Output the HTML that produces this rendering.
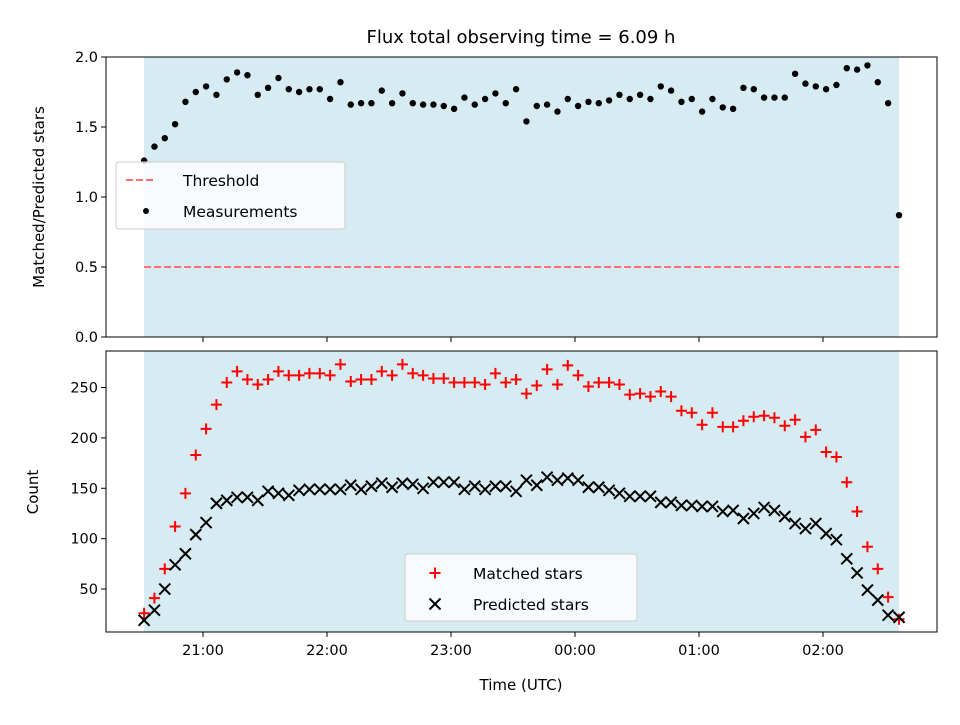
<!DOCTYPE html>
<html><head><meta charset="utf-8"><style>
body{margin:0;background:#fff}
svg text{font-family:"DejaVu Sans","Liberation Sans",sans-serif;fill:#000}
</style></head><body>
<svg id="c" width="960" height="720" viewBox="0 0 960 720"></svg>
<script>
// time of each measurement: minutes after 20:00
const timesMin = [31.5,36.5,41.5,46.5,51.5,56.5,61.5,66.5,71.5,76.5,81.5,86.5,91.5,96.5,101.5,106.5,111.5,116.5,121.5,126.5,131.5,136.5,141.5,146.5,151.5,156.5,161.5,166.5,171.5,176.5,181.5,186.5,191.5,196.5,201.5,206.5,211.5,216.5,221.5,226.5,231.5,236.5,241.5,246.5,251.5,256.5,261.5,266.5,271.5,276.5,281.5,286.5,291.5,296.5,301.5,306.5,311.5,316.5,321.5,326.5,331.5,336.5,341.5,346.5,351.5,356.5,361.5,366.5,371.5,376.5,381.5,386.5,391.5,396.8];
const ratio = [1.26,1.36,1.42,1.52,1.68,1.75,1.79,1.73,1.84,1.89,1.87,1.73,1.78,1.85,1.77,1.75,1.77,1.77,1.70,1.82,1.66,1.67,1.67,1.76,1.67,1.74,1.67,1.66,1.66,1.65,1.63,1.71,1.66,1.70,1.74,1.67,1.77,1.54,1.65,1.66,1.61,1.70,1.65,1.68,1.67,1.69,1.73,1.70,1.73,1.70,1.79,1.76,1.68,1.70,1.61,1.70,1.64,1.63,1.78,1.77,1.71,1.71,1.71,1.88,1.81,1.79,1.77,1.80,1.92,1.91,1.94,1.82,1.67,0.87];
const matched = [26,41,70,112,145,183,209,233,255,266,258,253,258,266,262,262,264,264,262,273,256,258,258,266,262,273,264,262,259,259,255,255,255,253,264,255,258,244,252,268,253,272,262,251,255,255,253,243,244,241,246,241,227,225,213,225,211,211,217,221,222,220,212,218,201,208,186,181,156,127,92,70,42,20];
const predicted = [19,29,50,74,85,104,116,135,138,141,141,138,147,145,143,148,149,149,149,149,153,149,152,155,151,155,154,150,156,156,156,149,152,149,152,152,147,158,153,161,158,160,158,151,151,148,145,142,142,142,136,136,133,133,132,132,127,128,120,125,131,128,122,115,110,115,105,99,80,66,49,39,24,22];
const threshold = 0.5;
const xTickMin = [60,120,180,240,300,360];
const xTickLabels = ["21:00","22:00","23:00","00:00","01:00","02:00"];
const topTicks = [0,0.5,1.0,1.5,2.0];
const topTickLabels = ["0.0","0.5","1.0","1.5","2.0"];
const botTicks = [50,100,150,200,250];

const NS="http://www.w3.org/2000/svg";
const svg=document.getElementById('c');
function el(tag,attrs,parent){const e=document.createElementNS(NS,tag);for(const k in attrs)e.setAttribute(k,attrs[k]);(parent||svg).appendChild(e);return e;}
const X=m=>203+(m-60)*124/60;
const YT=v=>337-v*140;
const YB=v=>639.4-v*1.0075;
const L=106,R=937;
const TF=14.5, LF=15, GF=15.5;

let t=el('text',{x:521,y:43,'font-size':18,'text-anchor':'middle'});t.textContent='Flux total observing time = 6.09 h';



function panel(top,bot,name){
  const g=el('g',{});
  
  
  const sh=el('rect',{x:X(timesMin[0]),y:top,width:X(timesMin[timesMin.length-1])-X(timesMin[0]),height:bot-top,fill:'rgba(173,216,230,0.5)'},g);
  
  
  return g;
}
function frame(g,top,bot){
  el('rect',{x:L,y:top,width:R-L,height:bot-top,fill:'none',stroke:'#000','stroke-width':1},g);
  xTickMin.forEach(m=>el('line',{x1:X(m),x2:X(m),y1:bot,y2:bot+5,stroke:'#000'},g));
}
const gt=panel(57,337,'ratio-panel');
const th=el('line',{x1:X(timesMin[0]),x2:X(timesMin[timesMin.length-1]),y1:YT(threshold),y2:YT(threshold),stroke:'#ff6e6e','stroke-width':2,'stroke-dasharray':'7,3'},gt);


ratio.forEach((v,i)=>{const c=el('circle',{cx:X(timesMin[i]),cy:YT(v),r:3.2,fill:'#000'},gt);

});
frame(gt,57,337);
topTicks.forEach((v,i)=>{el('line',{x1:L-5,x2:L,y1:YT(v),y2:YT(v),stroke:'#000'},gt);
const tx=el('text',{x:L-8,y:YT(v)+5,'font-size':TF,'text-anchor':'end'},gt);tx.textContent=topTickLabels[i];

});
let yl=el('text',{x:0,y:0,'font-size':LF,'text-anchor':'middle',transform:'translate(44,197) rotate(-90)'});yl.textContent='Matched/Predicted stars';


const lg=el('g',{});


el('rect',{x:116,y:162,width:229,height:67,rx:3,fill:'rgba(255,255,255,0.8)',stroke:'#ccc'},lg);
el('line',{x1:126,x2:154,y1:180,y2:180,stroke:'#ff6e6e','stroke-width':2,'stroke-dasharray':'7,3'},lg);
let lt=el('text',{x:183,y:186,'font-size':GF},lg);lt.textContent='Threshold';


el('circle',{cx:146,cy:211,r:3,fill:'#000'},lg);
lt=el('text',{x:183,y:217,'font-size':GF},lg);lt.textContent='Measurements';



const gb=panel(351,632,'count-panel');
function plus(g,x,y){el('path',{d:`M${x-5.5},${y}H${x+5.5}M${x},${y-5.5}V${y+5.5}`,stroke:'#ff0000','stroke-width':2},g);}
function cross(g,x,y){el('path',{d:`M${x-5.5},${y-5.5}L${x+5.5},${y+5.5}M${x-5.5},${y+5.5}L${x+5.5},${y-5.5}`,stroke:'#000','stroke-width':2},g);}
matched.forEach((v,i)=>{const g=el('g',{},gb);


plus(g,X(timesMin[i]),YB(v));});
predicted.forEach((v,i)=>{const g=el('g',{},gb);


cross(g,X(timesMin[i]),YB(v));});
frame(gb,351,632);
botTicks.forEach(v=>{el('line',{x1:L-5,x2:L,y1:YB(v),y2:YB(v),stroke:'#000'},gb);
const tx=el('text',{x:L-8,y:YB(v)+5,'font-size':TF,'text-anchor':'end'},gb);tx.textContent=String(v);

});
xTickMin.forEach((m,i)=>{const tx=el('text',{x:X(m),y:655,'font-size':TF,'text-anchor':'middle'},gb);tx.textContent=xTickLabels[i];

});
yl=el('text',{x:0,y:0,'font-size':LF,'text-anchor':'middle',transform:'translate(38,492) rotate(-90)'});yl.textContent='Count';


let xl=el('text',{x:521,y:690,'font-size':LF,'text-anchor':'middle'});xl.textContent='Time (UTC)';


const lb=el('g',{});


el('rect',{x:405,y:554,width:232,height:67,rx:3,fill:'rgba(255,255,255,0.8)',stroke:'#ccc'},lb);
plus(lb,435,573);
lt=el('text',{x:473,y:579,'font-size':GF},lb);lt.textContent='Matched stars';


cross(lb,435,604);
lt=el('text',{x:473,y:610,'font-size':GF},lb);lt.textContent='Predicted stars';


</script>
</body></html>
